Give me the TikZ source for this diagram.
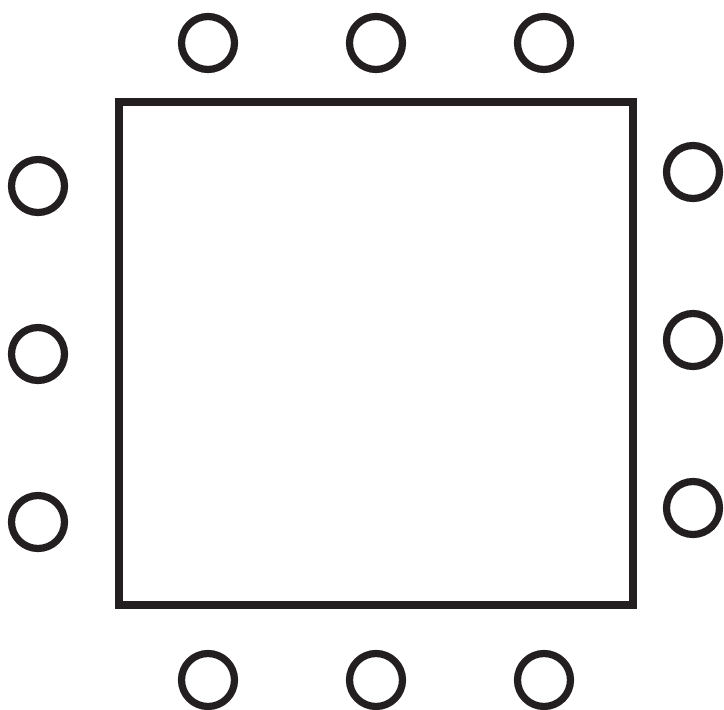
\documentclass[tikz,border=0pt]{standalone}
\definecolor{ink}{HTML}{231F20}
\tikzset{
  seat/.style={circle,draw=ink,line width=4.1pt,minimum size=1.06cm,inner sep=0pt},
  tablebox/.style={rectangle,draw=ink,line width=4.7pt,minimum width=10.28cm,minimum height=10.06cm,inner sep=0pt}
}
\begin{document}
\begin{tikzpicture}[x=0.02cm,y=-0.02cm]
\useasboundingbox (0,0) rectangle (724,710);
\node[tablebox] (table) at (376,353.5) {};
\foreach \x [count=\i] in {208,376,544} {
  \node[seat] (top\i) at (\x,43) {};
  \node[seat] (bottom\i) at (\x,680) {};
}
\foreach \y [count=\i] in {186,354,522} {
  \node[seat] (left\i) at (38,\y) {};
}
\foreach \y [count=\i] in {172,340,508} {
  \node[seat] (right\i) at (693,\y) {};
}
\end{tikzpicture}
\end{document}
